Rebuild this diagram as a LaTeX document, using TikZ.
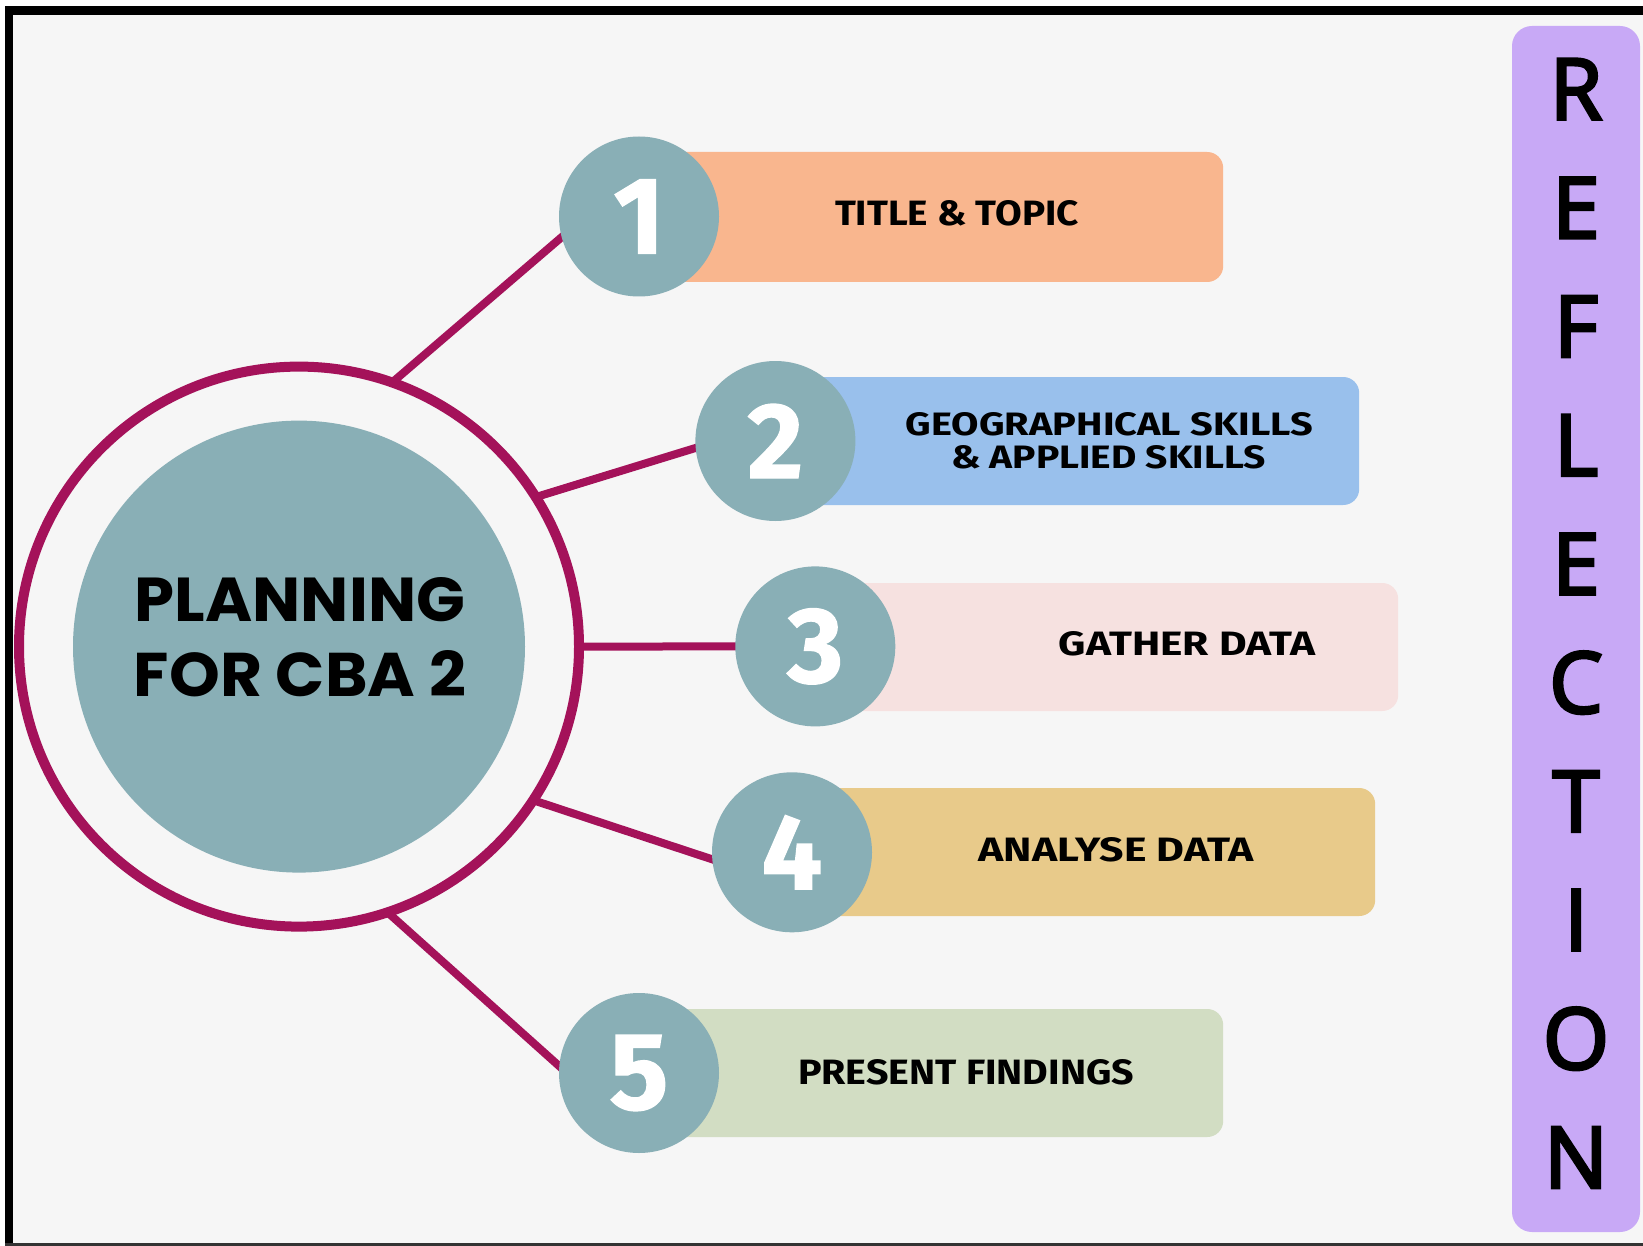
\documentclass[tikz,border=0pt]{standalone}
\usepackage{fontspec}
\usepackage{graphicx}
\setmainfont{Fira Sans}
\newfontfamily\hubfont{Poppins}
\newfontfamily\barfont{Open Sans}[FakeBold=3.5]
\newfontfamily\digitfont{Fira Sans}[BoldFeatures={FakeBold=1.2}]
\usetikzlibrary{backgrounds}

\definecolor{paper}{HTML}{F6F6F6}
\definecolor{berry}{HTML}{A4125A}
\definecolor{slate}{HTML}{89AFB6}
\definecolor{peach}{HTML}{F9B68E}
\definecolor{sky}{HTML}{99C0EC}
\definecolor{blush}{HTML}{F6E1E0}
\definecolor{sand}{HTML}{E8CA8A}
\definecolor{sage}{HTML}{D2DDC3}
\definecolor{lilac}{HTML}{C8A9F6}

\tikzset{
  numc/.style={circle, fill=slate, minimum size=160pt, inner sep=0pt, text=white},
  stepbar/.style={rectangle, rounded corners=16pt, anchor=west, inner sep=0pt,
                  minimum height=128pt},
  link/.style={draw=berry, line width=8pt, shorten <=-6pt, shorten >=-14pt},
  lbl/.style={inner sep=0pt, outer sep=0pt},
  letter/.style={inner sep=0pt, anchor=base, font=\barfont\fontsize{85}{90}\selectfont}
}

\newcommand{\fitted}[3]{\resizebox{#1pt}{#2pt}{\bfseries #3}}
\newcommand{\digit}[1]{\resizebox{!}{74pt}{\digitfont\bfseries #1}}

\begin{document}
\begin{tikzpicture}[x=1pt, y=-1pt]
  \useasboundingbox (0,0) rectangle (1643,1246);

  % central hub and its outer ring
  \node[circle, draw=berry, line width=10pt, minimum size=560pt, inner sep=0pt] (ring) at (299,646.6) {};
  \node[circle, fill=slate, minimum size=452pt, inner sep=0pt] (hub) at (299,646.6) {};

  % coloured step bars (left ends hidden under the number discs)
  \node[stepbar, fill=peach, minimum width=584pt, minimum height=130pt] (b1) at (639,217) {};
  \node[stepbar, fill=sky,   minimum width=584pt] (b2) at (775,441) {};
  \node[stepbar, fill=blush, minimum width=583pt] (b3) at (815,647) {};
  \node[stepbar, fill=sand,  minimum width=583pt] (b4) at (792,852) {};
  \node[stepbar, fill=sage,  minimum width=584pt] (b5) at (639,1073) {};

  % numbered discs
  \node[numc] (n1) at (639,216.5)   {\digit{1}};
  \node[numc] (n2) at (775.4,441)   {\digit{2}};
  \node[numc] (n3) at (815.3,646.4) {\digit{3}};
  \node[numc] (n4) at (792,852.3)   {\digit{4}};
  \node[numc] (n5) at (639,1073)    {\digit{5}};

  % page, frame and connectors behind everything
  \begin{pgfonlayer}{background}
    \fill[white] (0,0) rectangle (1643,1246);
    \fill[paper] (12.5,15) rectangle (1643,1243);
    \fill[black] (4.5,6) rectangle (1643,15);
    \fill[black] (4.5,6) rectangle (12.5,1246);
    \fill[black!80] (4.5,1243) rectangle (1643,1246);
    \draw[link] (ring.70)  -- (n1.195);
    \draw[link] (ring.32)  -- (n2.185);
    \draw[link] (ring.0)   -- (n3.180);
    \draw[link] (ring.327) -- (n4.185);
    \draw[link] (ring.289) -- (n5.175);
  \end{pgfonlayer}

  % hub title
  \node[lbl] (title1) at (300,599.7) {\resizebox{330pt}{44pt}{\hubfont\bfseries PLANNING}};
  \node[lbl] (title2) at (300,673.3) {\resizebox{332pt}{46pt}{\hubfont\bfseries FOR CBA 2}};

  % step labels
  \node[lbl] (t1)  at (957,213.5)   {\fitted{244}{25}{TITLE \& TOPIC}};
  \node[lbl] (t2a) at (1109.5,424)  {\fitted{407}{23}{GEOGRAPHICAL SKILLS}};
  \node[lbl] (t2b) at (1108.5,457.7){\fitted{315}{23}{\& APPLIED SKILLS}};
  \node[lbl] (t3)  at (1187,643.7)  {\fitted{256}{24}{GATHER DATA}};
  \node[lbl] (t4)  at (1116,849.7)  {\fitted{275}{24}{ANALYSE DATA}};
  \node[lbl] (t5)  at (966,1072.5)  {\fitted{336}{25}{PRESENT FINDINGS}};

  % vertical reflection bar
  \node[fill=lilac, rounded corners=20pt, minimum width=128pt, minimum height=1206pt, inner sep=0pt] (bar) at (1576,629) {};
  \foreach \ch [count=\i from 0] in {R,E,F,L,E,C,T,I,O,N}
    \node[letter] (r\i) at (1576,{89+118.7*\i+30.5}) {\ch};
\end{tikzpicture}
\end{document}
